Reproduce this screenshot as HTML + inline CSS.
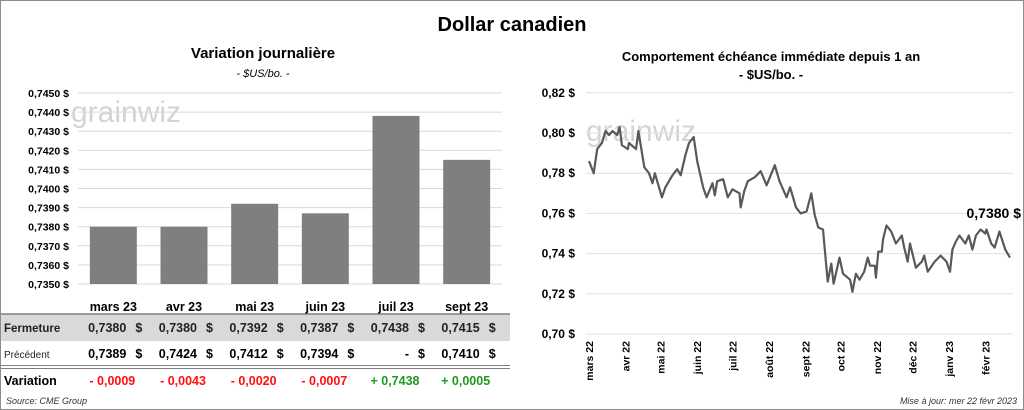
<!DOCTYPE html>
<html><head><meta charset="utf-8"><style>
body{margin:0;background:#fff;font-family:"Liberation Sans",sans-serif}
#wrap{position:relative;width:1022px;height:408px;border:1px solid #8c8c8c;overflow:hidden}
svg text{font-family:"Liberation Sans",sans-serif}
</style></head><body>
<div id="wrap">
<svg id="s" width="1022" height="408" xmlns="http://www.w3.org/2000/svg">
<text x="511" y="30" font-size="20" font-weight="bold" text-anchor="middle" fill="#000">Dollar canadien</text>
<text x="262" y="57" font-size="15" font-weight="bold" text-anchor="middle">Variation  journalière</text>
<text x="262" y="76" font-size="11" font-style="italic" text-anchor="middle">- $US/bo. -</text>
<text x="770" y="60" font-size="13" font-weight="bold" text-anchor="middle">Comportement échéance immédiate depuis 1 an</text>
<text x="770" y="78" font-size="13" font-weight="bold" text-anchor="middle">- $US/bo. -</text>
<text x="70" y="121" font-size="30" fill="#d4d4d4">grainwiz</text>
<text x="585" y="140" font-size="30" fill="#d4d4d4">grainwiz</text>
<g id="bars"></g><g id="line"></g><g id="table"></g>
<text x="5" y="403" font-size="9" font-style="italic" fill="#333">Source: CME Group</text>
<text x="1016" y="403" font-size="9" font-style="italic" fill="#333" text-anchor="end">Mise à jour: mer 22 févr 2023</text>
</svg></div>
<script>
const barCats=["mars 23","avr 23","mai 23","juin 23","juil 23","sept 23"];
const closeVals=[0.7380,0.7380,0.7392,0.7387,0.7438,0.7415];
const prevLabels=["0,7389","0,7424","0,7412","0,7394","-","0,7410"];
const varLabels=["- 0,0009","- 0,0043","- 0,0020","- 0,0007","+ 0,7438","+ 0,0005"];
const barTicks=[0.7350,0.7360,0.7370,0.7380,0.7390,0.7400,0.7410,0.7420,0.7430,0.7440,0.7450];
const lineDays=[0,4,7,11,14,17,20,24,26,28,33,34,40,42,47,51,54,56,62,65,71,75,78,82,85,89,92,97,100,105,107,109,114,118,122,128,129,132,135,141,146,151,158,162,168,171,176,180,185,189,192,195,199,203,206,208,213,216,222,224,227,230,234,237,239,243,244,246,249,250,253,257,261,266,268,271,273,278,283,285,288,294,299,304,307,309,312,315,320,323,326,329,333,337,338,342,345,349,354,358];
const lineVals=[0.786,0.780,0.792,0.795,0.801,0.799,0.801,0.799,0.803,0.794,0.792,0.795,0.792,0.801,0.783,0.780,0.775,0.780,0.768,0.773,0.779,0.782,0.779,0.789,0.795,0.798,0.786,0.773,0.768,0.775,0.769,0.776,0.777,0.768,0.772,0.770,0.763,0.771,0.776,0.778,0.781,0.774,0.784,0.776,0.768,0.773,0.763,0.760,0.761,0.770,0.759,0.753,0.752,0.726,0.735,0.725,0.738,0.730,0.727,0.721,0.730,0.727,0.731,0.738,0.734,0.734,0.728,0.741,0.741,0.747,0.754,0.751,0.745,0.749,0.743,0.736,0.745,0.733,0.736,0.739,0.731,0.736,0.739,0.736,0.731,0.742,0.746,0.749,0.745,0.749,0.742,0.749,0.752,0.750,0.752,0.745,0.743,0.751,0.742,0.738];
const lineTicks=[0.70,0.72,0.74,0.76,0.78,0.80,0.82];
const monthLabels=["mars 22","avr 22","mai 22","juin 22","juil 22","août 22","sept 22","oct 22","nov 22","déc 22","janv 23","févr 23"];
const monthDays=[0,31,61,92,122,153,184,214,245,275,306,337];
const NS="http://www.w3.org/2000/svg";
function mk(p,t,a,txt){const e=document.createElementNS(NS,t);for(const k in a)e.setAttribute(k,a[k]);if(txt!=null)e.textContent=txt;p.appendChild(e);return e;}
const fmt4=v=>v.toFixed(4).replace('.',',')+' $';
// bar chart
const bx0=77,bx1=501,by=v=>283-(v-0.7350)/0.0010*19.1,bw=(bx1-bx0)/barCats.length;
const gb=document.getElementById('bars');
barTicks.forEach(t=>{const l=mk(gb,'line',{x1:bx0,x2:bx1,y1:by(t),y2:by(t),stroke:'#d9d9d9'});

const tx=mk(gb,'text',{x:68,y:by(t)+4,'font-size':10.5,'font-weight':'bold','text-anchor':'end'},fmt4(t));
});
closeVals.forEach((v,i)=>{const cx=bx0+bw*(i+0.5);const r=mk(gb,'rect',{x:cx-23.5,y:by(v),width:47,height:283-by(v),fill:'#7f7f7f'});
});
// table
const gt=document.getElementById('table');
mk(gt,'rect',{x:0,y:313,width:509,height:27,fill:'#d9d9d9'});
mk(gt,'line',{x1:0,x2:509,y1:313,y2:313,stroke:'#7f7f7f','stroke-width':1.5});
mk(gt,'line',{x1:0,x2:509,y1:364.5,y2:364.5,stroke:'#7f7f7f'});
mk(gt,'line',{x1:0,x2:509,y1:367.5,y2:367.5,stroke:'#7f7f7f'});
let t1=mk(gt,'text',{x:3,y:331,'font-size':11.5,'font-weight':'bold',fill:'#222'},'Fermeture');
let t2=mk(gt,'text',{x:3,y:357,'font-size':10,fill:'#222'},'Précédent');
let t3=mk(gt,'text',{x:3,y:384,'font-size':12.5,'font-weight':'bold'},'Variation');
barCats.forEach((c,i)=>{const cx=bx0+bw*(i+0.5);
const h=mk(gt,'text',{x:cx,y:310,'font-size':12.5,'font-weight':'bold','text-anchor':'middle'},c);
const a=mk(gt,'text',{x:cx+13,y:331,'font-size':12.5,'font-weight':'bold','text-anchor':'end',fill:'#222'},closeVals[i].toFixed(4).replace('.',','));
mk(gt,'text',{x:cx+29,y:331,'font-size':12.5,'font-weight':'bold','text-anchor':'end',fill:'#222'},'$');
const b=mk(gt,'text',{x:cx+13,y:357,'font-size':12.5,'font-weight':'bold','text-anchor':'end'},prevLabels[i]);
mk(gt,'text',{x:cx+29,y:357,'font-size':12.5,'font-weight':'bold','text-anchor':'end'},'$');
const d=mk(gt,'text',{x:cx-1,y:384,'font-size':12.5,'font-weight':'bold','text-anchor':'middle',fill:varLabels[i][0]=='+'?'#1e9a1e':'#ff1010'},varLabels[i]);});
// line chart
const lx0=588,lx1=1009,lx=d=>lx0+(d/358)*(lx1-lx0),ly=v=>333-(v-0.70)/0.02*40.2;
const gl=document.getElementById('line');
lineTicks.forEach(t=>{const l=mk(gl,'line',{x1:lx0-3,x2:lx1+3,y1:ly(t),y2:ly(t),stroke:'#e0e0e0'});

const tx=mk(gl,'text',{x:574,y:ly(t)+4,'font-size':12,'font-weight':'bold','text-anchor':'end'},t.toFixed(2).replace('.',',')+' $');
});
monthLabels.forEach((m,i)=>{const x=lx(monthDays[i])+4;const tx=mk(gl,'text',{x:0,y:0,'font-size':10.5,'font-weight':'bold','text-anchor':'end',transform:`translate(${x},340) rotate(-90)`},m);
});
const pts=lineDays.map((d,i)=>lx(d).toFixed(1)+','+ly(lineVals[i]).toFixed(1)).join(' ');
const pl=mk(gl,'polyline',{points:pts,fill:'none',stroke:'#595959','stroke-width':2.2,'stroke-linejoin':'round'});

const lab=mk(gl,'text',{x:1020,y:ly(0.7578),'font-size':14,'font-weight':'bold','text-anchor':'end'},lineVals[lineVals.length-1].toFixed(4).replace('.',',')+' $');

</script>
</body></html>
